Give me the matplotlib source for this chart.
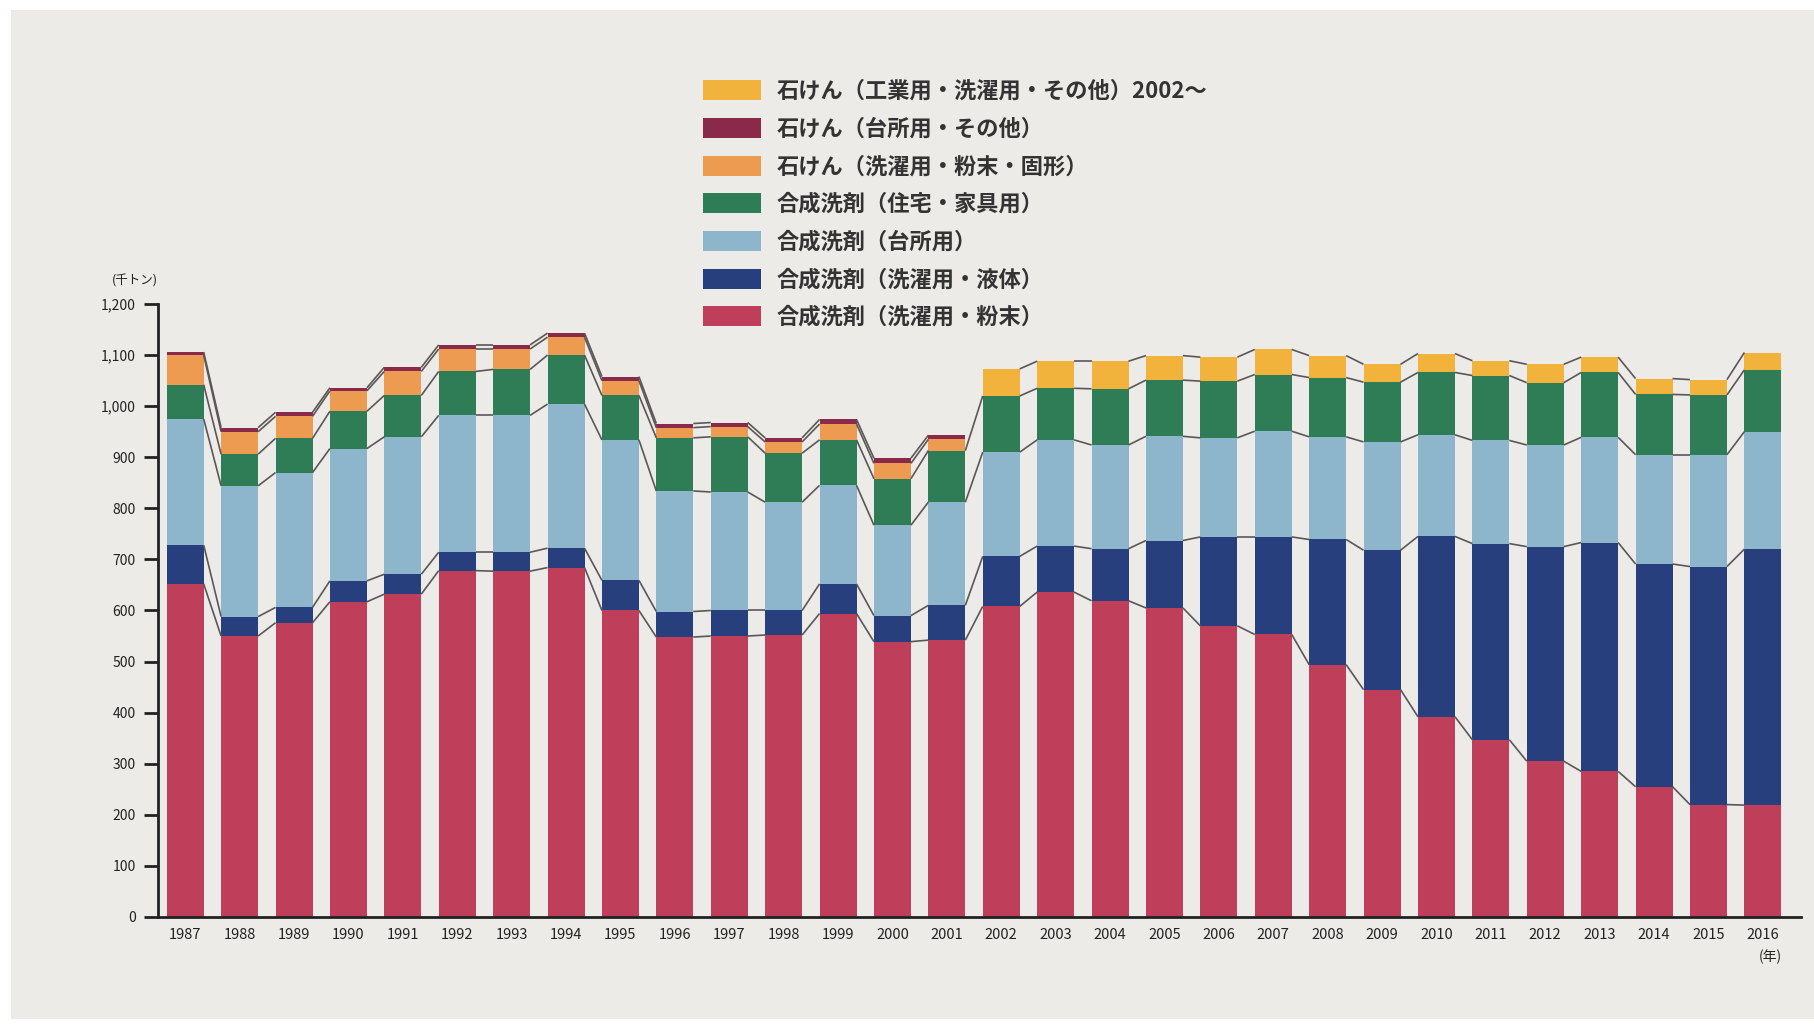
import matplotlib
matplotlib.use("Agg")
import matplotlib.pyplot as plt
from matplotlib.patches import Patch, Rectangle
import numpy as np

plt.rcParams['font.family'] = ['Noto Sans CJK JP', 'DejaVu Sans']

years = list(range(1987, 2017))

# 合成洗剤（洗濯用・粉末）
powder = [652, 550, 576, 617, 632, 678, 677, 684, 600, 548, 550, 552, 594, 539, 542,
          608, 636, 619, 605, 570, 553, 494, 445, 392, 347, 305, 285, 255, 220, 219]
# 合成洗剤（洗濯用・液体）
liquid = [76, 38, 30, 41, 39, 36, 37, 38, 59, 50, 50, 48, 58, 51, 68,
          98, 90, 102, 132, 174, 191, 245, 273, 353, 384, 420, 448, 436, 466, 501]
# 合成洗剤（台所用）
kitchen = [247, 256, 264, 259, 269, 268, 268, 282, 275, 236, 232, 212, 193, 177, 202,
           204, 208, 203, 204, 194, 207, 201, 212, 199, 202, 199, 206, 214, 219, 230]
# 合成洗剤（住宅・家具用）
house = [67, 62, 67, 73, 81, 86, 90, 96, 87, 104, 108, 96, 89, 91, 101,
         110, 101, 110, 110, 111, 111, 116, 117, 122, 127, 122, 127, 118, 117, 121]
# 石けん（洗濯用・粉末・固形）
soap_laundry = [58, 44, 43, 40, 47, 44, 40, 35, 29, 20, 20, 22, 31, 30, 22,
                0, 0, 0, 0, 0, 0, 0, 0, 0, 0, 0, 0, 0, 0, 0]
# 石けん（台所用・その他）
soap_kitchen = [6, 8, 8, 6, 8, 8, 8, 8, 8, 8, 8, 8, 9, 10, 8,
                0, 0, 0, 0, 0, 0, 0, 0, 0, 0, 0, 0, 0, 0, 0]
# 石けん（工業用・洗濯用・その他）2002～
soap_all = [0, 0, 0, 0, 0, 0, 0, 0, 0, 0, 0, 0, 0, 0, 0,
            53, 53, 54, 48, 47, 49, 43, 35, 37, 29, 36, 30, 31, 30, 34]

labels = ["合成洗剤（洗濯用・粉末）", "合成洗剤（洗濯用・液体）", "合成洗剤（台所用）",
          "合成洗剤（住宅・家具用）", "石けん（洗濯用・粉末・固形）", "石けん（台所用・その他）",
          "石けん（工業用・洗濯用・その他）2002～"]
series = [powder, liquid, kitchen, house, soap_laundry, soap_kitchen, soap_all]
colors = ["#bf3f5a", "#273f7c", "#8db6cd", "#2f7d57", "#ec9b50", "#8a2a4b", "#f2b33d"]

yticks = list(range(0, 1201, 100))
ytick_labels = [f"{v:,}" for v in yticks]

fig = plt.figure(figsize=(18.14, 10.25), dpi=100)
fig.patch.set_facecolor("white")
fig.patches.append(Rectangle((0.006, 0.006), 0.994, 0.984, transform=fig.transFigure,
                             facecolor="#ecebe8", edgecolor="none", zorder=-10))

ax = fig.add_axes([0.0871, 0.1054, 0.9057, 0.598])
ax.set_facecolor("none")

x = np.arange(len(years))
w = 0.68
bottom = np.zeros(len(years))
tops = []
for vals, c, lab in zip(series, colors, labels):
    v = np.array(vals, dtype=float)
    ax.bar(x, v, width=w, bottom=bottom, color=c, edgecolor="none", label=lab, zorder=2)
    bottom = bottom + v
    tops.append((v, bottom.copy()))

# series lines connecting segment tops between bars
for v, top in tops:
    for i in range(len(x) - 1):
        if v[i] > 0 and v[i + 1] > 0:
            ax.plot([x[i] + w / 2, x[i + 1] - w / 2], [top[i], top[i + 1]],
                    color="#5c5658", lw=1.2, zorder=3, solid_capstyle="butt")

ax.set_xlim(-0.5, len(years) - 1 + 0.7)
ax.set_ylim(0, 1200)
ax.set_xticks(x)
ax.set_xticklabels([str(y) for y in years], fontsize=10.5, color="#222222")
ax.set_yticks(yticks)
ax.set_yticklabels(ytick_labels, fontsize=10, color="#222222")
ax.tick_params(axis="x", length=0, pad=8)
ax.tick_params(axis="y", direction="out", length=10, width=2, color="#222222", pad=6)
for s in ["top", "right"]:
    ax.spines[s].set_visible(False)
ax.spines["left"].set_linewidth(2)
ax.spines["left"].set_color("#222222")
ax.spines["bottom"].set_linewidth(2)
ax.spines["bottom"].set_color("#222222")

fig.text(112 / 1814, 1 - 281 / 1025, "(千トン)", fontsize=9, color="#222222",
         ha="left", va="center")
fig.text(1770 / 1814, 1 - 957 / 1025, "(年)", fontsize=10, color="#222222",
         ha="center", va="center")

handles = [Patch(facecolor=c, edgecolor="none") for c in colors][::-1]
leg = fig.legend(handles, labels[::-1], loc="upper left",
                 bbox_to_anchor=(703 / 1814, 1 - 80 / 1025),
                 frameon=False, fontsize=16, handlelength=2.6, handleheight=1.0,
                 handletextpad=0.7, labelspacing=0.66, borderaxespad=0, borderpad=0)
for t in leg.get_texts():
    t.set_fontweight("bold")
    t.set_color("#333333")

fig.savefig("out.png", dpi=100, facecolor=fig.get_facecolor())
